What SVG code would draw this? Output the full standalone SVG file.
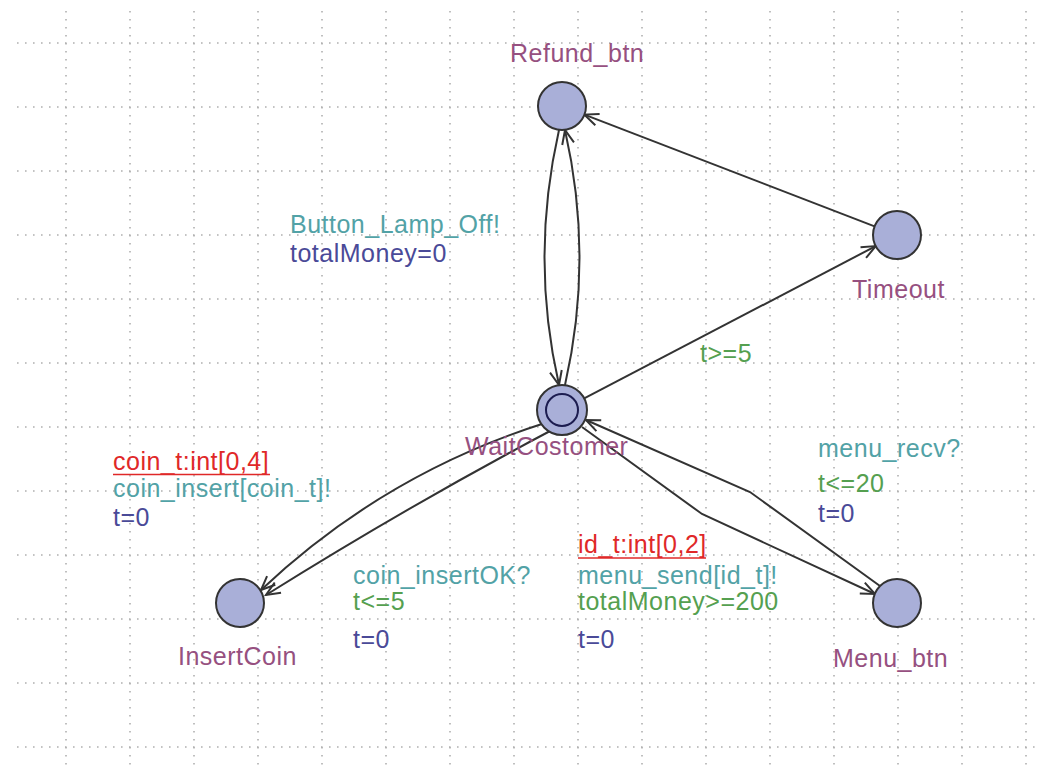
<svg xmlns="http://www.w3.org/2000/svg" width="1037" height="765" viewBox="0 0 1037 765">
<defs>
<style>
.grid line{stroke:#b0b0b0;stroke-width:1.6;stroke-dasharray:1.6 6.4}
.loc{fill:#a9afd8;stroke:#333;stroke-width:2}
.inner{fill:#a9afd8;stroke:#1c1c50;stroke-width:2}
text{font-family:"Liberation Sans",Arial,sans-serif;font-size:25px;letter-spacing:0.5px}
.name{fill:#965080}
.sync{fill:#52a2a6}
.upd{fill:#4a4a98}
.grd{fill:#55a050}
.sel{fill:#e02828}
.edges path,.edges polyline,.edges line{fill:none;stroke:#333;stroke-width:2;marker-end:url(#arr)}
</style>
<marker id="arr" markerUnits="userSpaceOnUse" markerWidth="18" markerHeight="14" refX="15" refY="7" orient="auto">
<path d="M1,1 L15,7 L1,13" fill="none" stroke="#333" stroke-width="2"/>
</marker>
</defs>
<rect width="1037" height="765" fill="#fff"/>
<g class="grid">
<line x1="17" y1="43" x2="1037" y2="43"/>
<line x1="17" y1="107" x2="1037" y2="107"/>
<line x1="17" y1="171" x2="1037" y2="171"/>
<line x1="17" y1="235" x2="1037" y2="235"/>
<line x1="17" y1="299" x2="1037" y2="299"/>
<line x1="17" y1="363" x2="1037" y2="363"/>
<line x1="17" y1="427" x2="1037" y2="427"/>
<line x1="17" y1="491" x2="1037" y2="491"/>
<line x1="17" y1="555" x2="1037" y2="555"/>
<line x1="17" y1="619" x2="1037" y2="619"/>
<line x1="17" y1="683" x2="1037" y2="683"/>
<line x1="17" y1="747" x2="1037" y2="747"/>
<line x1="66" y1="11" x2="66" y2="765"/>
<line x1="130" y1="11" x2="130" y2="765"/>
<line x1="194" y1="11" x2="194" y2="765"/>
<line x1="258" y1="11" x2="258" y2="765"/>
<line x1="322" y1="11" x2="322" y2="765"/>
<line x1="386" y1="11" x2="386" y2="765"/>
<line x1="450" y1="11" x2="450" y2="765"/>
<line x1="514" y1="11" x2="514" y2="765"/>
<line x1="578" y1="11" x2="578" y2="765"/>
<line x1="642" y1="11" x2="642" y2="765"/>
<line x1="706" y1="11" x2="706" y2="765"/>
<line x1="770" y1="11" x2="770" y2="765"/>
<line x1="834" y1="11" x2="834" y2="765"/>
<line x1="898" y1="11" x2="898" y2="765"/>
<line x1="962" y1="11" x2="962" y2="765"/>
<line x1="1026" y1="11" x2="1026" y2="765"/>
</g>
<g class="edges" id="edges">
<line x1="874.6" y1="226.4" x2="584.4" y2="114.6"/>
<line x1="584.2" y1="398.4" x2="875.7" y2="246.1"/>
<path d="M559,130 Q530,258 559,385"/>
<path d="M565,385 Q594,258 565,130"/>
<path d="M545,423 Q384,474 261,590"/>
<path d="M552,430 Q410,505 266,595"/>
<polyline points="880,586 750,492 586,420"/>
<polyline points="582,427 702,514 875,594"/>
</g>
<g id="Refund_btn"><circle class="loc" cx="562" cy="106" r="24"/><text class="name" x="510" y="62">Refund_btn</text></g>
<g id="Timeout"><circle class="loc" cx="897" cy="235" r="24"/><text class="name" x="852" y="298">Timeout</text></g>
<g id="WaitCostomer"><circle class="loc" cx="562" cy="410" r="25"/><circle class="inner" cx="562" cy="410" r="16"/><text class="name" x="465" y="455">WaitCostomer</text></g>
<g id="InsertCoin"><circle class="loc" cx="240" cy="603" r="24"/><text class="name" x="178" y="665">InsertCoin</text></g>
<g id="Menu_btn"><circle class="loc" cx="897" cy="603" r="24"/><text class="name" x="833" y="667">Menu_btn</text></g>
<g id="labels">
<text class="sync" x="290" y="233">Button_Lamp_Off!</text>
<text class="upd" x="290" y="262">totalMoney=0</text>
<text class="grd" x="700" y="362">t&gt;=5</text>
<text class="sel" x="113" y="470">coin_t:int[0,4]</text>
<line x1="113" y1="474.5" x2="270" y2="474.5" stroke="#e02828" stroke-width="1.6"/>
<text class="sync" x="113" y="497">coin_insert[coin_t]!</text>
<text class="upd" x="113" y="526">t=0</text>
<text class="sync" x="353" y="584">coin_insertOK?</text>
<text class="grd" x="353" y="610">t&lt;=5</text>
<text class="upd" x="353" y="648">t=0</text>
<text class="sel" x="578" y="553">id_t:int[0,2]</text>
<line x1="578" y1="558" x2="706" y2="558" stroke="#e02828" stroke-width="1.6"/>
<text class="sync" x="578" y="584">menu_send[id_t]!</text>
<text class="grd" x="578" y="610">totalMoney&gt;=200</text>
<text class="upd" x="578" y="648">t=0</text>
<text class="sync" x="818" y="457">menu_recv?</text>
<text class="grd" x="818" y="492">t&lt;=20</text>
<text class="upd" x="818" y="522">t=0</text>
</g>
</svg>
